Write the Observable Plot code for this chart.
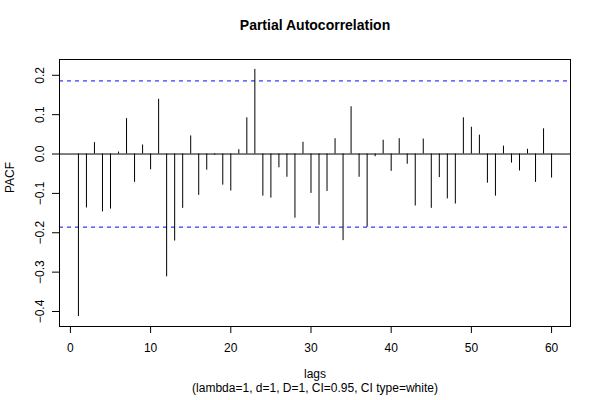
<!DOCTYPE html>
<html>
<head>
<meta charset="utf-8">
<script src="https://cdn.jsdelivr.net/npm/d3@7"></script>
<script src="https://cdn.jsdelivr.net/npm/@observablehq/plot@0.6"></script>
<style>
  html, body { margin: 0; padding: 0; background: #fff; }
</style>
</head>
<body>
<div id="chart"></div>
<script>
const lags = d3.range(1, 61);
const pacf = [
  -0.413, -0.137, 0.029, -0.147, -0.140, 0.005, 0.090, -0.072, 0.023, -0.040,
  0.139, -0.312, -0.221, -0.138, 0.046, -0.105, -0.041, -0.003, -0.079, -0.094,
  0.011, 0.092, 0.215, -0.107, -0.112, -0.035, -0.059, -0.163, 0.030, -0.100,
  -0.181, -0.095, 0.039, -0.220, 0.120, -0.059, -0.186, -0.007, 0.035, -0.044,
  0.039, -0.026, -0.132, 0.038, -0.138, -0.060, -0.114, -0.127, 0.092, 0.068,
  0.048, -0.074, -0.107, 0.020, -0.023, -0.043, 0.012, -0.072, 0.064, -0.061
];
const ciLimit = 0.1857;
const xTicks = [0, 10, 20, 30, 40, 50, 60];
const yTicks = [-0.4, -0.3, -0.2, -0.1, 0, 0.1, 0.2];
const titleText = "Partial Autocorrelation";
const xLabel = "lags";
const yLabel = "PACF";
const subLabel = "(lambda=1, d=1, D=1, CI=0.95, CI type=white)";

const data = lags.map((l, i) => ({lag: l, value: pacf[i]}));

const ymin = Math.min(...pacf, -ciLimit), ymax = Math.max(...pacf, ciLimit);
const ypad = (ymax - ymin) * 0.04;
const xpad = (60 - 1) * 0.04;
const font = "'Liberation Sans', Arial, Helvetica, sans-serif";
const fmt = d => (d < 0 ? "\u2212" : "") + Math.abs(d).toFixed(1);

const chart = Plot.plot({
  width: 600,
  height: 400,
  marginTop: 59,
  marginRight: 30,
  marginBottom: 74,
  marginLeft: 59,
  style: {fontFamily: font, fontSize: "12px", background: "#fff", color: "#000"},
  x: {domain: [1 - xpad, 60 + xpad]},
  y: {domain: [ymin - ypad, ymax + ypad]},
  marks: [
    Plot.ruleY([ciLimit, -ciLimit], {stroke: "#0000ff", strokeDasharray: "4,4", strokeWidth: 1}),
    Plot.ruleY([0], {stroke: "#000", strokeWidth: 1}),
    Plot.ruleX(data, {x: "lag", y1: 0, y2: "value", stroke: "#000", strokeWidth: 1}),
    Plot.frame({stroke: "#000", strokeWidth: 1}),
    Plot.axisX({ticks: xTicks, tickSize: 7, tickPadding: 10, tickFormat: d => String(d), label: null, fontSize: 12}),
    Plot.axisY({ticks: yTicks, tickSize: 7, tickFormat: () => "", label: null}),
    Plot.text(yTicks, {y: d => d, text: fmt, frameAnchor: "left", dx: -19, rotate: -90, textAnchor: "middle", fontSize: 12}),
    Plot.text([titleText], {text: d => d, frameAnchor: "top", dy: -39, fontSize: 14, fontWeight: "bold"}),
    Plot.text([xLabel], {text: d => d, frameAnchor: "bottom", dy: 51, fontSize: 12}),
    Plot.text([subLabel], {text: d => d, frameAnchor: "bottom", dy: 65, fontSize: 12}),
    Plot.text([yLabel], {text: d => d, frameAnchor: "left", dx: -49, rotate: -90, fontSize: 12})
  ]
});
document.getElementById("chart").appendChild(chart);
</script>
</body>
</html>
